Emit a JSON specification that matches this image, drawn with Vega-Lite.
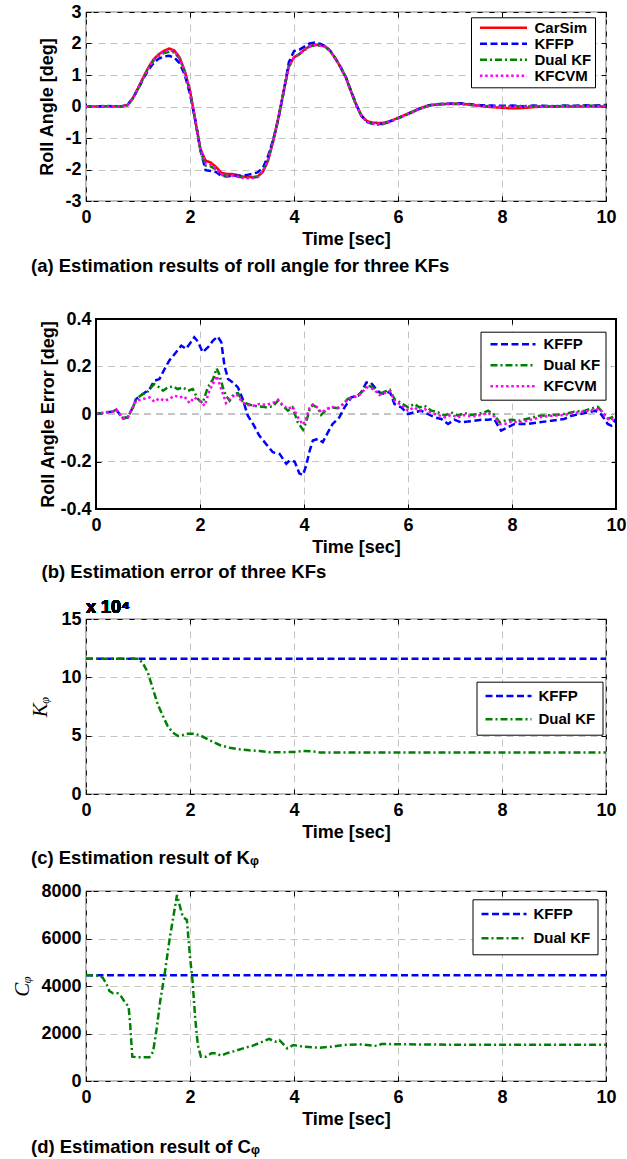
{
  "$schema": "https://vega.github.io/schema/vega-lite/v6.json",
  "background": "white",
  "padding": {"left": 5, "top": 2, "right": 0, "bottom": 0},
  "config": {
    "font": "Liberation Sans",
    "view": {"stroke": "black", "strokeWidth": 1.2},
    "axis": {
      "domain": false,
      "labelFont": "Liberation Sans", "labelFontSize": 18, "labelFontWeight": "bold", "labelColor": "black",
      "titleFont": "Liberation Sans", "titleFontSize": 18, "titleFontWeight": "bold", "titleColor": "black",
      "tickColor": "black", "tickSize": -5, "tickWidth": 1,
      "gridColor": "#c4c4c4", "gridDash": [7, 5], "gridWidth": 1,
      "labelFlush": false
    },
    "axisX": {"labelPadding": 12, "titlePadding": 4},
    "axisY": {"labelPadding": 10, "titlePadding": 8},
    "title": {"font": "Liberation Sans", "fontSize": 18.5, "fontWeight": "bold", "color": "black"},
    "legend": {
      "title": null, "symbolStrokeWidth": 2.5,
      "labelFont": "Liberation Sans", "labelFontSize": 15, "labelFontWeight": "bold", "labelColor": "black",
      "strokeColor": "black", "fillColor": "white", "orient": "none"
    }
  },
  "columns": 1,
  "align": "none",
  "spacing": 33,
  "resolve": {"scale": {"x": "independent", "y": "independent", "color": "independent", "strokeDash": "independent"}},
  "concat": [
    {
      "width": 520, "height": 189,
      "title": {"text": "(a) Estimation results of roll angle for three KFs", "orient": "bottom", "anchor": "start", "frame": "group", "dx": -55, "offset": 9},
      "data": {"values": [
        {"t":0,"CarSim":0,"KFFP":0.01,"Dual KF":0,"KFCVM":0},
        {"t":0.2,"CarSim":0,"KFFP":0,"Dual KF":0.01,"KFCVM":0},
        {"t":0.4,"CarSim":0.01,"KFFP":0.02,"Dual KF":0.01,"KFCVM":0.01},
        {"t":0.6,"CarSim":0.01,"KFFP":0,"Dual KF":0,"KFCVM":0},
        {"t":0.7,"CarSim":0.01,"KFFP":0.01,"Dual KF":0.01,"KFCVM":0.01},
        {"t":0.8,"CarSim":0.05,"KFFP":0.05,"Dual KF":0.04,"KFCVM":0.04},
        {"t":0.9,"CarSim":0.27,"KFFP":0.26,"Dual KF":0.25,"KFCVM":0.26},
        {"t":1.0,"CarSim":0.58,"KFFP":0.55,"Dual KF":0.56,"KFCVM":0.57},
        {"t":1.1,"CarSim":0.92,"KFFP":0.88,"Dual KF":0.90,"KFCVM":0.91},
        {"t":1.2,"CarSim":1.24,"KFFP":1.16,"Dual KF":1.21,"KFCVM":1.22},
        {"t":1.3,"CarSim":1.50,"KFFP":1.38,"Dual KF":1.46,"KFCVM":1.48},
        {"t":1.4,"CarSim":1.66,"KFFP":1.52,"Dual KF":1.61,"KFCVM":1.64},
        {"t":1.5,"CarSim":1.77,"KFFP":1.59,"Dual KF":1.70,"KFCVM":1.74},
        {"t":1.6,"CarSim":1.84,"KFFP":1.61,"Dual KF":1.74,"KFCVM":1.79},
        {"t":1.7,"CarSim":1.78,"KFFP":1.55,"Dual KF":1.72,"KFCVM":1.75},
        {"t":1.8,"CarSim":1.56,"KFFP":1.38,"Dual KF":1.52,"KFCVM":1.54},
        {"t":1.9,"CarSim":1.12,"KFFP":1.00,"Dual KF":1.10,"KFCVM":1.11},
        {"t":2.0,"CarSim":0.50,"KFFP":0.40,"Dual KF":0.47,"KFCVM":0.48},
        {"t":2.1,"CarSim":-0.42,"KFFP":-0.42,"Dual KF":-0.43,"KFCVM":-0.42},
        {"t":2.2,"CarSim":-1.35,"KFFP":-1.38,"Dual KF":-1.40,"KFCVM":-1.37},
        {"t":2.3,"CarSim":-1.72,"KFFP":-2.02,"Dual KF":-1.88,"KFCVM":-1.80},
        {"t":2.4,"CarSim":-1.78,"KFFP":-2.05,"Dual KF":-1.90,"KFCVM":-1.84},
        {"t":2.5,"CarSim":-1.92,"KFFP":-2.08,"Dual KF":-2.00,"KFCVM":-1.97},
        {"t":2.6,"CarSim":-2.10,"KFFP":-2.20,"Dual KF":-2.17,"KFCVM":-2.15},
        {"t":2.7,"CarSim":-2.14,"KFFP":-2.22,"Dual KF":-2.20,"KFCVM":-2.19},
        {"t":2.8,"CarSim":-2.14,"KFFP":-2.20,"Dual KF":-2.20,"KFCVM":-2.19},
        {"t":2.9,"CarSim":-2.17,"KFFP":-2.20,"Dual KF":-2.22,"KFCVM":-2.22},
        {"t":3.0,"CarSim":-2.22,"KFFP":-2.20,"Dual KF":-2.25,"KFCVM":-2.26},
        {"t":3.1,"CarSim":-2.24,"KFFP":-2.17,"Dual KF":-2.26,"KFCVM":-2.28},
        {"t":3.2,"CarSim":-2.24,"KFFP":-2.14,"Dual KF":-2.26,"KFCVM":-2.27},
        {"t":3.3,"CarSim":-2.22,"KFFP":-2.09,"Dual KF":-2.23,"KFCVM":-2.24},
        {"t":3.4,"CarSim":-2.08,"KFFP":-1.95,"Dual KF":-2.06,"KFCVM":-2.08},
        {"t":3.5,"CarSim":-1.72,"KFFP":-1.58,"Dual KF":-1.70,"KFCVM":-1.71},
        {"t":3.6,"CarSim":-1.10,"KFFP":-1.05,"Dual KF":-1.08,"KFCVM":-1.09},
        {"t":3.7,"CarSim":-0.35,"KFFP":-0.40,"Dual KF":-0.36,"KFCVM":-0.36},
        {"t":3.8,"CarSim":0.48,"KFFP":0.45,"Dual KF":0.47,"KFCVM":0.47},
        {"t":3.9,"CarSim":1.28,"KFFP":1.40,"Dual KF":1.26,"KFCVM":1.27},
        {"t":4.0,"CarSim":1.56,"KFFP":1.76,"Dual KF":1.55,"KFCVM":1.56},
        {"t":4.1,"CarSim":1.66,"KFFP":1.80,"Dual KF":1.66,"KFCVM":1.66},
        {"t":4.2,"CarSim":1.80,"KFFP":1.90,"Dual KF":1.79,"KFCVM":1.79},
        {"t":4.3,"CarSim":1.92,"KFFP":2.00,"Dual KF":1.90,"KFCVM":1.91},
        {"t":4.4,"CarSim":1.96,"KFFP":2.03,"Dual KF":1.94,"KFCVM":1.95},
        {"t":4.5,"CarSim":1.95,"KFFP":1.99,"Dual KF":1.94,"KFCVM":1.94},
        {"t":4.6,"CarSim":1.91,"KFFP":1.92,"Dual KF":1.90,"KFCVM":1.90},
        {"t":4.7,"CarSim":1.76,"KFFP":1.76,"Dual KF":1.75,"KFCVM":1.75},
        {"t":4.8,"CarSim":1.52,"KFFP":1.52,"Dual KF":1.51,"KFCVM":1.51},
        {"t":4.9,"CarSim":1.24,"KFFP":1.24,"Dual KF":1.22,"KFCVM":1.23},
        {"t":5.0,"CarSim":0.92,"KFFP":0.92,"Dual KF":0.90,"KFCVM":0.91},
        {"t":5.1,"CarSim":0.47,"KFFP":0.48,"Dual KF":0.45,"KFCVM":0.46},
        {"t":5.2,"CarSim":0.04,"KFFP":0.05,"Dual KF":0.02,"KFCVM":0.03},
        {"t":5.3,"CarSim":-0.29,"KFFP":-0.30,"Dual KF":-0.31,"KFCVM":-0.30},
        {"t":5.4,"CarSim":-0.46,"KFFP":-0.48,"Dual KF":-0.49,"KFCVM":-0.48},
        {"t":5.5,"CarSim":-0.51,"KFFP":-0.54,"Dual KF":-0.55,"KFCVM":-0.54},
        {"t":5.6,"CarSim":-0.52,"KFFP":-0.56,"Dual KF":-0.57,"KFCVM":-0.55},
        {"t":5.7,"CarSim":-0.52,"KFFP":-0.55,"Dual KF":-0.56,"KFCVM":-0.55},
        {"t":5.8,"CarSim":-0.49,"KFFP":-0.50,"Dual KF":-0.51,"KFCVM":-0.50},
        {"t":5.9,"CarSim":-0.43,"KFFP":-0.44,"Dual KF":-0.45,"KFCVM":-0.44},
        {"t":6.0,"CarSim":-0.36,"KFFP":-0.37,"Dual KF":-0.38,"KFCVM":-0.37},
        {"t":6.2,"CarSim":-0.22,"KFFP":-0.23,"Dual KF":-0.24,"KFCVM":-0.23},
        {"t":6.4,"CarSim":-0.07,"KFFP":-0.08,"Dual KF":-0.09,"KFCVM":-0.08},
        {"t":6.6,"CarSim":0.04,"KFFP":0.04,"Dual KF":0.03,"KFCVM":0.03},
        {"t":6.8,"CarSim":0.07,"KFFP":0.08,"Dual KF":0.07,"KFCVM":0.07},
        {"t":7.0,"CarSim":0.09,"KFFP":0.09,"Dual KF":0.08,"KFCVM":0.08},
        {"t":7.2,"CarSim":0.09,"KFFP":0.10,"Dual KF":0.08,"KFCVM":0.08},
        {"t":7.4,"CarSim":0.06,"KFFP":0.07,"Dual KF":0.05,"KFCVM":0.05},
        {"t":7.6,"CarSim":0.01,"KFFP":0.04,"Dual KF":0.02,"KFCVM":0.02},
        {"t":7.8,"CarSim":-0.02,"KFFP":0.03,"Dual KF":0.01,"KFCVM":0},
        {"t":8.0,"CarSim":-0.04,"KFFP":0.02,"Dual KF":-0.01,"KFCVM":-0.02},
        {"t":8.2,"CarSim":-0.06,"KFFP":0.03,"Dual KF":0,"KFCVM":-0.01},
        {"t":8.4,"CarSim":-0.05,"KFFP":0.01,"Dual KF":0.01,"KFCVM":0},
        {"t":8.6,"CarSim":-0.02,"KFFP":0.03,"Dual KF":0,"KFCVM":-0.01},
        {"t":8.8,"CarSim":0,"KFFP":0.02,"Dual KF":0.01,"KFCVM":0.01},
        {"t":9.0,"CarSim":0,"KFFP":0.01,"Dual KF":0,"KFCVM":0},
        {"t":9.2,"CarSim":0,"KFFP":0.03,"Dual KF":0.02,"KFCVM":0.01},
        {"t":9.4,"CarSim":0,"KFFP":0.02,"Dual KF":0.01,"KFCVM":0},
        {"t":9.6,"CarSim":0,"KFFP":0.04,"Dual KF":0.03,"KFCVM":0.02},
        {"t":9.8,"CarSim":0,"KFFP":0.03,"Dual KF":0.02,"KFCVM":0.01},
        {"t":10,"CarSim":0,"KFFP":0.05,"Dual KF":0.02,"KFCVM":0.01}
      ]},
      "transform": [{"fold": ["CarSim", "KFFP", "Dual KF", "KFCVM"], "as": ["s", "v"]}],
      "layer": [
        {
          "mark": {"type": "line", "strokeWidth": 2.5, "clip": true},
          "encoding": {
            "x": {"field": "t", "type": "quantitative", "scale": {"domain": [0, 10], "nice": false, "zero": false},
                  "axis": {"values": [0, 2, 4, 6, 8, 10], "title": "Time [sec]", "grid": true, "labelExpr": "'' + datum.value"}},
            "y": {"field": "v", "type": "quantitative", "scale": {"domain": [-3, 3], "nice": false},
                  "axis": {"values": [-3, -2, -1, 0, 1, 2, 3], "title": "Roll Angle [deg]", "grid": true, "labelExpr": "'' + datum.value"}},
            "color": {"field": "s", "type": "nominal",
                      "scale": {"domain": ["CarSim", "KFFP", "Dual KF", "KFCVM"], "range": ["#ff0000", "#0000ff", "#008000", "#ff00ff"]},
                      "legend": {"legendX": 385, "legendY": 5.3, "padding": 3, "symbolType": "M-4.7,0H4.7", "symbolSize": 100, "symbolOffset": 22, "labelOffset": 23.5, "rowPadding": -0.3, "labelExpr": "datum.label + ' '"}},
            "strokeDash": {"field": "s", "type": "nominal",
                      "scale": {"domain": ["CarSim", "KFFP", "Dual KF", "KFCVM"], "range": [[1, 0], [7, 3.5], [7, 3, 2, 3], [2.5, 2.7]]},
                      "legend": {"legendX": 385, "legendY": 5.3, "padding": 3, "symbolType": "M-4.7,0H4.7", "symbolSize": 100, "symbolOffset": 22, "labelOffset": 23.5, "rowPadding": -0.3, "labelExpr": "datum.label + ' '"}}
          }
        },
        {
          "mark": {"type": "point", "opacity": 0},
          "encoding": {
            "x": {"field": "t", "type": "quantitative", "axis": {"orient": "top", "values": [0, 2, 4, 6, 8, 10], "labels": false, "title": null, "grid": false}},
            "y": {"field": "v", "type": "quantitative", "axis": {"orient": "right", "values": [-3, -2, -1, 0, 1, 2, 3], "labels": false, "title": null, "grid": false}}
          }
        },
        {
          "mark": {"type": "text", "text": ".", "color": "white", "align": "left", "baseline": "top", "dx": -80, "fontSize": 8},
          "encoding": {"x": {"datum": 0, "type": "quantitative", "axis": null}, "y": {"datum": 3, "type": "quantitative", "axis": null}}
        }
      ],
      "resolve": {"axis": {"x": "independent", "y": "independent"}}
    },
    {
      "columns": 1,
      "align": "none",
      "spacing": 16,
      "resolve": {"scale": {"x": "independent", "y": "independent", "color": "independent", "strokeDash": "independent"}},
      "concat": [
        {
          "width": 530, "height": 190,
          "view": {"stroke": null},
          "title": {"text": "(b) Estimation error of three KFs", "orient": "bottom", "anchor": "start", "frame": "group", "dx": -44.5, "offset": 7},
          "data": {"values": [
            {"s":"KFFP","t":0,"v":0},{"s":"KFFP","t":0.2,"v":0.007},{"s":"KFFP","t":0.32,"v":0.01},{"s":"KFFP","t":0.39,"v":0.018},{"s":"KFFP","t":0.45,"v":0},{"s":"KFFP","t":0.52,"v":-0.018},{"s":"KFFP","t":0.61,"v":-0.014},{"s":"KFFP","t":0.71,"v":0.028},{"s":"KFFP","t":0.77,"v":0.063},{"s":"KFFP","t":0.9,"v":0.084},{"s":"KFFP","t":1.03,"v":0.105},{"s":"KFFP","t":1.12,"v":0.14},{"s":"KFFP","t":1.22,"v":0.147},{"s":"KFFP","t":1.32,"v":0.19},{"s":"KFFP","t":1.41,"v":0.225},{"s":"KFFP","t":1.54,"v":0.26},{"s":"KFFP","t":1.64,"v":0.288},{"s":"KFFP","t":1.73,"v":0.274},{"s":"KFFP","t":1.8,"v":0.295},{"s":"KFFP","t":1.89,"v":0.323},{"s":"KFFP","t":1.96,"v":0.305},{"s":"KFFP","t":2.05,"v":0.26},{"s":"KFFP","t":2.15,"v":0.28},{"s":"KFFP","t":2.25,"v":0.309},{"s":"KFFP","t":2.34,"v":0.326},{"s":"KFFP","t":2.41,"v":0.302},{"s":"KFFP","t":2.47,"v":0.204},{"s":"KFFP","t":2.54,"v":0.147},{"s":"KFFP","t":2.63,"v":0.133},{"s":"KFFP","t":2.73,"v":0.112},{"s":"KFFP","t":2.82,"v":0.063},{"s":"KFFP","t":2.92,"v":-0.007},{"s":"KFFP","t":3.02,"v":-0.042},{"s":"KFFP","t":3.14,"v":-0.091},{"s":"KFFP","t":3.27,"v":-0.126},{"s":"KFFP","t":3.4,"v":-0.161},{"s":"KFFP","t":3.53,"v":-0.168},{"s":"KFFP","t":3.66,"v":-0.21},{"s":"KFFP","t":3.72,"v":-0.196},{"s":"KFFP","t":3.82,"v":-0.2},{"s":"KFFP","t":3.91,"v":-0.25},{"s":"KFFP","t":3.98,"v":-0.257},{"s":"KFFP","t":4.04,"v":-0.218},{"s":"KFFP","t":4.11,"v":-0.154},{"s":"KFFP","t":4.17,"v":-0.112},{"s":"KFFP","t":4.27,"v":-0.105},{"s":"KFFP","t":4.36,"v":-0.119},{"s":"KFFP","t":4.46,"v":-0.077},{"s":"KFFP","t":4.55,"v":-0.042},{"s":"KFFP","t":4.68,"v":-0.014},{"s":"KFFP","t":4.78,"v":0.028},{"s":"KFFP","t":4.91,"v":0.07},{"s":"KFFP","t":5.04,"v":0.077},{"s":"KFFP","t":5.1,"v":0.091},{"s":"KFFP","t":5.2,"v":0.133},{"s":"KFFP","t":5.28,"v":0.133},{"s":"KFFP","t":5.36,"v":0.112},{"s":"KFFP","t":5.45,"v":0.091},{"s":"KFFP","t":5.55,"v":0.084},{"s":"KFFP","t":5.65,"v":0.094},{"s":"KFFP","t":5.74,"v":0.042},{"s":"KFFP","t":5.87,"v":0.028},{"s":"KFFP","t":6.0,"v":0},{"s":"KFFP","t":6.12,"v":0.007},{"s":"KFFP","t":6.25,"v":0.014},{"s":"KFFP","t":6.38,"v":0},{"s":"KFFP","t":6.51,"v":-0.014},{"s":"KFFP","t":6.64,"v":-0.021},{"s":"KFFP","t":6.77,"v":-0.042},{"s":"KFFP","t":6.89,"v":-0.024},{"s":"KFFP","t":7.02,"v":-0.035},{"s":"KFFP","t":7.15,"v":-0.032},{"s":"KFFP","t":7.28,"v":-0.028},{"s":"KFFP","t":7.41,"v":-0.024},{"s":"KFFP","t":7.54,"v":-0.024},{"s":"KFFP","t":7.66,"v":-0.021},{"s":"KFFP","t":7.73,"v":-0.049},{"s":"KFFP","t":7.79,"v":-0.07},{"s":"KFFP","t":7.92,"v":-0.056},{"s":"KFFP","t":8.05,"v":-0.042},{"s":"KFFP","t":8.3,"v":-0.042},{"s":"KFFP","t":8.53,"v":-0.035},{"s":"KFFP","t":8.76,"v":-0.028},{"s":"KFFP","t":9.0,"v":-0.021},{"s":"KFFP","t":9.15,"v":-0.007},{"s":"KFFP","t":9.38,"v":0.003},{"s":"KFFP","t":9.6,"v":0.014},{"s":"KFFP","t":9.72,"v":-0.003},{"s":"KFFP","t":9.84,"v":-0.042},{"s":"KFFP","t":9.91,"v":-0.049},{"s":"KFFP","t":10,"v":-0.021},
            {"s":"Dual KF","t":0,"v":0},{"s":"Dual KF","t":0.2,"v":0.007},{"s":"Dual KF","t":0.32,"v":0.01},{"s":"Dual KF","t":0.39,"v":0.018},{"s":"Dual KF","t":0.45,"v":0},{"s":"Dual KF","t":0.52,"v":-0.018},{"s":"Dual KF","t":0.61,"v":-0.014},{"s":"Dual KF","t":0.71,"v":0.028},{"s":"Dual KF","t":0.77,"v":0.063},{"s":"Dual KF","t":0.9,"v":0.084},{"s":"Dual KF","t":0.97,"v":0.088},{"s":"Dual KF","t":1.06,"v":0.112},{"s":"Dual KF","t":1.12,"v":0.126},{"s":"Dual KF","t":1.22,"v":0.112},{"s":"Dual KF","t":1.29,"v":0.098},{"s":"Dual KF","t":1.38,"v":0.112},{"s":"Dual KF","t":1.48,"v":0.116},{"s":"Dual KF","t":1.57,"v":0.105},{"s":"Dual KF","t":1.67,"v":0.112},{"s":"Dual KF","t":1.77,"v":0.098},{"s":"Dual KF","t":1.86,"v":0.105},{"s":"Dual KF","t":1.96,"v":0.063},{"s":"Dual KF","t":2.05,"v":0.046},{"s":"Dual KF","t":2.15,"v":0.112},{"s":"Dual KF","t":2.25,"v":0.147},{"s":"Dual KF","t":2.32,"v":0.192},{"s":"Dual KF","t":2.37,"v":0.168},{"s":"Dual KF","t":2.44,"v":0.112},{"s":"Dual KF","t":2.5,"v":0.077},{"s":"Dual KF","t":2.57,"v":0.056},{"s":"Dual KF","t":2.65,"v":0.084},{"s":"Dual KF","t":2.73,"v":0.088},{"s":"Dual KF","t":2.82,"v":0.052},{"s":"Dual KF","t":2.92,"v":0.042},{"s":"Dual KF","t":3.02,"v":0.035},{"s":"Dual KF","t":3.14,"v":0.032},{"s":"Dual KF","t":3.27,"v":0.028},{"s":"Dual KF","t":3.4,"v":0.032},{"s":"Dual KF","t":3.5,"v":0.056},{"s":"Dual KF","t":3.59,"v":0.035},{"s":"Dual KF","t":3.69,"v":0.014},{"s":"Dual KF","t":3.78,"v":0.028},{"s":"Dual KF","t":3.88,"v":-0.035},{"s":"Dual KF","t":3.98,"v":-0.066},{"s":"Dual KF","t":4.04,"v":-0.035},{"s":"Dual KF","t":4.11,"v":0.021},{"s":"Dual KF","t":4.17,"v":0.038},{"s":"Dual KF","t":4.27,"v":0.024},{"s":"Dual KF","t":4.33,"v":-0.004},{"s":"Dual KF","t":4.43,"v":0.018},{"s":"Dual KF","t":4.52,"v":0.028},{"s":"Dual KF","t":4.65,"v":0.024},{"s":"Dual KF","t":4.75,"v":0.042},{"s":"Dual KF","t":4.84,"v":0.063},{"s":"Dual KF","t":4.94,"v":0.073},{"s":"Dual KF","t":5.04,"v":0.077},{"s":"Dual KF","t":5.13,"v":0.098},{"s":"Dual KF","t":5.2,"v":0.119},{"s":"Dual KF","t":5.28,"v":0.116},{"s":"Dual KF","t":5.36,"v":0.105},{"s":"Dual KF","t":5.45,"v":0.084},{"s":"Dual KF","t":5.55,"v":0.094},{"s":"Dual KF","t":5.65,"v":0.102},{"s":"Dual KF","t":5.74,"v":0.063},{"s":"Dual KF","t":5.87,"v":0.046},{"s":"Dual KF","t":6.0,"v":0.028},{"s":"Dual KF","t":6.12,"v":0.042},{"s":"Dual KF","t":6.22,"v":0.028},{"s":"Dual KF","t":6.32,"v":0.035},{"s":"Dual KF","t":6.45,"v":0.014},{"s":"Dual KF","t":6.58,"v":0.007},{"s":"Dual KF","t":6.71,"v":-0.007},{"s":"Dual KF","t":6.83,"v":0.007},{"s":"Dual KF","t":6.96,"v":-0.007},{"s":"Dual KF","t":7.09,"v":0.004},{"s":"Dual KF","t":7.22,"v":-0.004},{"s":"Dual KF","t":7.34,"v":0},{"s":"Dual KF","t":7.47,"v":0.007},{"s":"Dual KF","t":7.54,"v":0.014},{"s":"Dual KF","t":7.66,"v":-0.004},{"s":"Dual KF","t":7.76,"v":-0.035},{"s":"Dual KF","t":7.86,"v":-0.028},{"s":"Dual KF","t":7.99,"v":-0.024},{"s":"Dual KF","t":8.15,"v":-0.028},{"s":"Dual KF","t":8.3,"v":-0.02},{"s":"Dual KF","t":8.53,"v":-0.007},{"s":"Dual KF","t":8.76,"v":-0.005},{"s":"Dual KF","t":9.0,"v":0},{"s":"Dual KF","t":9.2,"v":0.01},{"s":"Dual KF","t":9.4,"v":0.014},{"s":"Dual KF","t":9.6,"v":0.028},{"s":"Dual KF","t":9.65,"v":0.03},{"s":"Dual KF","t":9.75,"v":0.005},{"s":"Dual KF","t":9.85,"v":-0.02},{"s":"Dual KF","t":9.92,"v":-0.014},{"s":"Dual KF","t":10,"v":-0.007},
            {"s":"KFCVM","t":0,"v":0},{"s":"KFCVM","t":0.2,"v":0.007},{"s":"KFCVM","t":0.32,"v":0.01},{"s":"KFCVM","t":0.39,"v":0.018},{"s":"KFCVM","t":0.45,"v":0},{"s":"KFCVM","t":0.52,"v":-0.018},{"s":"KFCVM","t":0.61,"v":-0.014},{"s":"KFCVM","t":0.71,"v":0.028},{"s":"KFCVM","t":0.77,"v":0.055},{"s":"KFCVM","t":0.9,"v":0.063},{"s":"KFCVM","t":1.03,"v":0.07},{"s":"KFCVM","t":1.12,"v":0.052},{"s":"KFCVM","t":1.22,"v":0.066},{"s":"KFCVM","t":1.32,"v":0.056},{"s":"KFCVM","t":1.41,"v":0.063},{"s":"KFCVM","t":1.51,"v":0.077},{"s":"KFCVM","t":1.61,"v":0.07},{"s":"KFCVM","t":1.7,"v":0.074},{"s":"KFCVM","t":1.8,"v":0.046},{"s":"KFCVM","t":1.89,"v":0.07},{"s":"KFCVM","t":1.99,"v":0.056},{"s":"KFCVM","t":2.09,"v":0.035},{"s":"KFCVM","t":2.18,"v":0.098},{"s":"KFCVM","t":2.28,"v":0.14},{"s":"KFCVM","t":2.32,"v":0.161},{"s":"KFCVM","t":2.41,"v":0.105},{"s":"KFCVM","t":2.5,"v":0.046},{"s":"KFCVM","t":2.6,"v":0.07},{"s":"KFCVM","t":2.7,"v":0.084},{"s":"KFCVM","t":2.79,"v":0.056},{"s":"KFCVM","t":2.89,"v":0.038},{"s":"KFCVM","t":3.02,"v":0.035},{"s":"KFCVM","t":3.14,"v":0.042},{"s":"KFCVM","t":3.27,"v":0.038},{"s":"KFCVM","t":3.4,"v":0.046},{"s":"KFCVM","t":3.5,"v":0.06},{"s":"KFCVM","t":3.59,"v":0.038},{"s":"KFCVM","t":3.69,"v":0.021},{"s":"KFCVM","t":3.78,"v":0.032},{"s":"KFCVM","t":3.88,"v":-0.014},{"s":"KFCVM","t":3.98,"v":-0.045},{"s":"KFCVM","t":4.04,"v":-0.02},{"s":"KFCVM","t":4.11,"v":0.03},{"s":"KFCVM","t":4.17,"v":0.04},{"s":"KFCVM","t":4.27,"v":0.026},{"s":"KFCVM","t":4.33,"v":0.005},{"s":"KFCVM","t":4.43,"v":0.02},{"s":"KFCVM","t":4.52,"v":0.03},{"s":"KFCVM","t":4.65,"v":0.026},{"s":"KFCVM","t":4.75,"v":0.04},{"s":"KFCVM","t":4.84,"v":0.06},{"s":"KFCVM","t":4.94,"v":0.07},{"s":"KFCVM","t":5.04,"v":0.075},{"s":"KFCVM","t":5.13,"v":0.094},{"s":"KFCVM","t":5.2,"v":0.112},{"s":"KFCVM","t":5.28,"v":0.11},{"s":"KFCVM","t":5.36,"v":0.1},{"s":"KFCVM","t":5.45,"v":0.08},{"s":"KFCVM","t":5.55,"v":0.088},{"s":"KFCVM","t":5.65,"v":0.095},{"s":"KFCVM","t":5.74,"v":0.056},{"s":"KFCVM","t":5.87,"v":0.038},{"s":"KFCVM","t":6.0,"v":0.014},{"s":"KFCVM","t":6.12,"v":0.028},{"s":"KFCVM","t":6.22,"v":0.014},{"s":"KFCVM","t":6.32,"v":0.021},{"s":"KFCVM","t":6.45,"v":0.004},{"s":"KFCVM","t":6.58,"v":-0.004},{"s":"KFCVM","t":6.71,"v":-0.014},{"s":"KFCVM","t":6.83,"v":-0.004},{"s":"KFCVM","t":6.96,"v":-0.014},{"s":"KFCVM","t":7.09,"v":-0.004},{"s":"KFCVM","t":7.22,"v":-0.01},{"s":"KFCVM","t":7.34,"v":-0.007},{"s":"KFCVM","t":7.47,"v":0},{"s":"KFCVM","t":7.54,"v":0.004},{"s":"KFCVM","t":7.66,"v":-0.01},{"s":"KFCVM","t":7.76,"v":-0.042},{"s":"KFCVM","t":7.86,"v":-0.042},{"s":"KFCVM","t":7.99,"v":-0.032},{"s":"KFCVM","t":8.15,"v":-0.035},{"s":"KFCVM","t":8.3,"v":-0.028},{"s":"KFCVM","t":8.53,"v":-0.014},{"s":"KFCVM","t":8.76,"v":-0.007},{"s":"KFCVM","t":9.0,"v":-0.005},{"s":"KFCVM","t":9.2,"v":0.005},{"s":"KFCVM","t":9.4,"v":0.01},{"s":"KFCVM","t":9.6,"v":0.02},{"s":"KFCVM","t":9.7,"v":0.02},{"s":"KFCVM","t":9.8,"v":-0.014},{"s":"KFCVM","t":9.9,"v":-0.028},{"s":"KFCVM","t":10,"v":-0.01}
          ]},
          "layer": [
            {
              "mark": {"type": "rule", "color": "#c4c4c4", "strokeDash": [7, 5], "strokeWidth": 1},
              "encoding": {"x": {"datum": 0, "type": "quantitative", "axis": null}, "x2": {"datum": 10}, "y": {"datum": 0.2, "type": "quantitative", "axis": null}}
            },
            {
              "mark": {"type": "rule", "color": "#c4c4c4", "strokeDash": [7, 5], "strokeWidth": 1},
              "encoding": {"x": {"datum": 0, "type": "quantitative", "axis": null}, "x2": {"datum": 10}, "y": {"datum": 0, "type": "quantitative", "axis": null}}
            },
            {
              "mark": {"type": "rule", "color": "#c4c4c4", "strokeDash": [7, 5], "strokeWidth": 1},
              "encoding": {"x": {"datum": 0, "type": "quantitative", "axis": null}, "x2": {"datum": 10}, "y": {"datum": -0.2, "type": "quantitative", "axis": null}}
            },
            {
              "mark": {"type": "line", "strokeWidth": 2.5, "clip": true},
              "encoding": {
                "x": {"field": "t", "type": "quantitative", "scale": {"domain": [0, 10], "range": [10, 530], "nice": false, "zero": false},
                      "axis": {"values": [0, 2, 4, 6, 8, 10], "title": "Time [sec]", "titleX": 270, "grid": true, "labelExpr": "'' + datum.value"}},
                "y": {"field": "v", "type": "quantitative", "scale": {"domain": [-0.4, 0.4], "nice": false},
                      "axis": {"values": [-0.4, -0.2, 0, 0.2, 0.4], "title": "Roll Angle Error [deg]", "grid": false, "offset": -10, "titlePadding": 2, "labelExpr": "'' + datum.value"}},
                "color": {"field": "s", "type": "nominal",
                          "scale": {"domain": ["KFFP", "Dual KF", "KFCVM"], "range": ["#0000ff", "#008000", "#ff00ff"]},
                          "legend": {"legendX": 394.5, "legendY": 12.7, "padding": 5, "symbolType": "M-4.5,0H4.5", "symbolSize": 100, "symbolOffset": 20, "labelOffset": 23, "rowPadding": 5, "labelExpr": "datum.label + ' '"}},
                "strokeDash": {"field": "s", "type": "nominal",
                          "scale": {"domain": ["KFFP", "Dual KF", "KFCVM"], "range": [[7, 3.5], [7, 3, 2, 3], [2.5, 2.7]]},
                          "legend": {"legendX": 394.5, "legendY": 12.7, "padding": 5, "symbolType": "M-4.5,0H4.5", "symbolSize": 100, "symbolOffset": 20, "labelOffset": 23, "rowPadding": 5, "labelExpr": "datum.label + ' '"}}
              }
            },
            {
              "mark": {"type": "point", "opacity": 0},
              "encoding": {
                "x": {"field": "t", "type": "quantitative", "axis": {"orient": "top", "values": [0, 2, 4, 6, 8, 10], "labels": false, "title": null, "grid": false}},
                "y": {"field": "v", "type": "quantitative", "axis": {"orient": "right", "values": [-0.4, -0.2, 0, 0.2, 0.4], "labels": false, "title": null, "grid": false}}
              }
            },
            {
              "mark": {"type": "text", "text": ".", "color": "white", "align": "left", "baseline": "top", "dx": -90, "fontSize": 8},
              "encoding": {"x": {"datum": 0, "type": "quantitative", "axis": null}, "y": {"datum": 0.4, "type": "quantitative", "axis": null}}
            },
            {
              "mark": {"type": "rect", "filled": false, "stroke": "black", "strokeWidth": 1.2},
              "encoding": {"x": {"datum": 0, "type": "quantitative", "axis": null}, "x2": {"datum": 10}, "y": {"datum": -0.4, "type": "quantitative", "axis": null}, "y2": {"datum": 0.4}}
            }
          ],
          "resolve": {"axis": {"x": "independent", "y": "independent"}}
        },
        {
          "columns": 1,
          "align": "none",
          "spacing": 12,
          "resolve": {"scale": {"x": "independent", "y": "independent", "color": "independent", "strokeDash": "independent"}},
          "concat": [
            {
              "width": 520, "height": 175,
              "title": {"text": "(c) Estimation result of Kᵩ", "orient": "bottom", "anchor": "start", "frame": "group", "dx": -55, "offset": 8},
              "data": {"values": [
                {"s":"KFFP","t":0,"v":11.6},{"s":"KFFP","t":10,"v":11.6},
                {"s":"Dual KF","t":0,"v":11.6},{"s":"Dual KF","t":0.5,"v":11.6},{"s":"Dual KF","t":1.0,"v":11.6},{"s":"Dual KF","t":1.09,"v":11.25},{"s":"Dual KF","t":1.19,"v":10.4},{"s":"Dual KF","t":1.29,"v":8.97},{"s":"Dual KF","t":1.38,"v":7.68},{"s":"Dual KF","t":1.48,"v":6.68},{"s":"Dual KF","t":1.57,"v":5.83},{"s":"Dual KF","t":1.67,"v":5.26},{"s":"Dual KF","t":1.77,"v":4.97},{"s":"Dual KF","t":1.86,"v":5.05},{"s":"Dual KF","t":1.96,"v":5.17},{"s":"Dual KF","t":2.09,"v":5.17},{"s":"Dual KF","t":2.22,"v":4.97},{"s":"Dual KF","t":2.38,"v":4.6},{"s":"Dual KF","t":2.57,"v":4.2},{"s":"Dual KF","t":2.76,"v":3.97},{"s":"Dual KF","t":2.95,"v":3.83},{"s":"Dual KF","t":3.14,"v":3.74},{"s":"Dual KF","t":3.34,"v":3.69},{"s":"Dual KF","t":3.53,"v":3.58},{"s":"Dual KF","t":3.8,"v":3.58},{"s":"Dual KF","t":4.0,"v":3.6},{"s":"Dual KF","t":4.18,"v":3.68},{"s":"Dual KF","t":4.35,"v":3.65},{"s":"Dual KF","t":4.5,"v":3.56},{"s":"Dual KF","t":5,"v":3.55},{"s":"Dual KF","t":6,"v":3.55},{"s":"Dual KF","t":7,"v":3.55},{"s":"Dual KF","t":8,"v":3.55},{"s":"Dual KF","t":9,"v":3.55},{"s":"Dual KF","t":10,"v":3.55}
              ]},
              "layer": [
                {
                  "mark": {"type": "line", "strokeWidth": 2.5, "clip": true},
                  "encoding": {
                    "x": {"field": "t", "type": "quantitative", "scale": {"domain": [0, 10], "nice": false, "zero": false},
                          "axis": {"values": [0, 2, 4, 6, 8, 10], "title": "Time [sec]", "grid": true, "labelExpr": "'' + datum.value"}},
                    "y": {"field": "v", "type": "quantitative", "scale": {"domain": [0, 15], "nice": false},
                          "axis": {"values": [0, 5, 10, 15], "title": "Kᵩ", "grid": true, "titleFont": "Liberation Serif", "titleFontStyle": "italic", "titleFontWeight": "normal", "titleFontSize": 21, "titlePadding": 10, "labelExpr": "'' + datum.value"}},
                    "color": {"field": "s", "type": "nominal",
                              "scale": {"domain": ["KFFP", "Dual KF"], "range": ["#0000ff", "#008000"]},
                              "legend": {"legendX": 390.5, "legendY": 62.7, "padding": 6.8, "symbolType": "M-4.6,0H4.6", "symbolSize": 100, "symbolOffset": 17.7, "labelOffset": 22.5, "rowPadding": 7.3}},
                    "strokeDash": {"field": "s", "type": "nominal",
                              "scale": {"domain": ["KFFP", "Dual KF"], "range": [[7, 3.5], [7, 3, 2, 3]]},
                              "legend": {"legendX": 390.5, "legendY": 62.7, "padding": 6.8, "symbolType": "M-4.6,0H4.6", "symbolSize": 100, "symbolOffset": 17.7, "labelOffset": 22.5, "rowPadding": 7.3}}
                  }
                },
                {
                  "mark": {"type": "point", "opacity": 0},
                  "encoding": {
                    "x": {"field": "t", "type": "quantitative", "axis": {"orient": "top", "values": [0, 2, 4, 6, 8, 10], "labels": false, "title": null, "grid": false}},
                    "y": {"field": "v", "type": "quantitative", "axis": {"orient": "right", "values": [0, 5, 10, 15], "labels": false, "title": null, "grid": false}}
                  }
                },
                {
                  "mark": {"type": "text", "align": "left", "baseline": "alphabetic", "dy": -6, "font": "Liberation Sans", "fontSize": 18, "fontWeight": "bold", "color": "black"},
                  "encoding": {
                    "x": {"datum": 0, "type": "quantitative", "axis": null},
                    "y": {"datum": 15, "type": "quantitative", "axis": null},
                    "text": {"value": "x 10⁴"}
                  }
                },
                {
                  "mark": {"type": "text", "text": ".", "color": "white", "align": "left", "baseline": "top", "dx": -80, "fontSize": 8},
                  "encoding": {"x": {"datum": 0, "type": "quantitative", "axis": null}, "y": {"datum": 15, "type": "quantitative", "axis": null}}
                }
              ],
              "resolve": {"axis": {"x": "independent", "y": "independent"}}
            },
            {
              "width": 520, "height": 190,
              "title": {"text": "(d) Estimation result of Cᵩ", "orient": "bottom", "anchor": "start", "frame": "group", "dx": -55, "offset": 10},
              "data": {"values": [
                {"s":"KFFP","t":0,"v":4450},{"s":"KFFP","t":10,"v":4450},
                {"s":"Dual KF","t":0,"v":4460},{"s":"Dual KF","t":0.26,"v":4430},{"s":"Dual KF","t":0.32,"v":4350},{"s":"Dual KF","t":0.39,"v":4110},{"s":"Dual KF","t":0.45,"v":3790},{"s":"Dual KF","t":0.52,"v":3690},{"s":"Dual KF","t":0.61,"v":3690},{"s":"Dual KF","t":0.68,"v":3550},{"s":"Dual KF","t":0.74,"v":3340},{"s":"Dual KF","t":0.82,"v":3130},{"s":"Dual KF","t":0.85,"v":2360},{"s":"Dual KF","t":0.89,"v":1025},{"s":"Dual KF","t":0.97,"v":1000},{"s":"Dual KF","t":1.22,"v":1000},{"s":"Dual KF","t":1.29,"v":1230},{"s":"Dual KF","t":1.36,"v":2220},{"s":"Dual KF","t":1.43,"v":3410},{"s":"Dual KF","t":1.51,"v":4460},{"s":"Dual KF","t":1.61,"v":6010},{"s":"Dual KF","t":1.68,"v":6920},{"s":"Dual KF","t":1.75,"v":7830},{"s":"Dual KF","t":1.8,"v":7410},{"s":"Dual KF","t":1.86,"v":6920},{"s":"Dual KF","t":1.94,"v":6780},{"s":"Dual KF","t":2.0,"v":5230},{"s":"Dual KF","t":2.05,"v":4180},{"s":"Dual KF","t":2.1,"v":2640},{"s":"Dual KF","t":2.15,"v":1520},{"s":"Dual KF","t":2.21,"v":1025},{"s":"Dual KF","t":2.31,"v":1025},{"s":"Dual KF","t":2.41,"v":1165},{"s":"Dual KF","t":2.5,"v":1165},{"s":"Dual KF","t":2.6,"v":1065},{"s":"Dual KF","t":2.7,"v":1165},{"s":"Dual KF","t":2.82,"v":1235},{"s":"Dual KF","t":3.02,"v":1375},{"s":"Dual KF","t":3.21,"v":1490},{"s":"Dual KF","t":3.4,"v":1660},{"s":"Dual KF","t":3.52,"v":1770},{"s":"Dual KF","t":3.64,"v":1655},{"s":"Dual KF","t":3.72,"v":1720},{"s":"Dual KF","t":3.87,"v":1375},{"s":"Dual KF","t":3.99,"v":1515},{"s":"Dual KF","t":4.18,"v":1445},{"s":"Dual KF","t":4.49,"v":1400},{"s":"Dual KF","t":4.72,"v":1445},{"s":"Dual KF","t":4.95,"v":1515},{"s":"Dual KF","t":5.26,"v":1545},{"s":"Dual KF","t":5.61,"v":1475},{"s":"Dual KF","t":5.68,"v":1560},{"s":"Dual KF","t":6.03,"v":1545},{"s":"Dual KF","t":7,"v":1530},{"s":"Dual KF","t":8,"v":1530},{"s":"Dual KF","t":9,"v":1530},{"s":"Dual KF","t":10,"v":1530}
              ]},
              "layer": [
                {
                  "mark": {"type": "line", "strokeWidth": 2.5, "clip": true},
                  "encoding": {
                    "x": {"field": "t", "type": "quantitative", "scale": {"domain": [0, 10], "nice": false, "zero": false},
                          "axis": {"values": [0, 2, 4, 6, 8, 10], "title": "Time [sec]", "grid": true, "labelExpr": "'' + datum.value"}},
                    "y": {"field": "v", "type": "quantitative", "scale": {"domain": [0, 8000], "nice": false},
                          "axis": {"values": [0, 2000, 4000, 6000, 8000], "title": "Cᵩ", "grid": true, "titleFont": "Liberation Serif", "titleFontStyle": "italic", "titleFontWeight": "normal", "titleFontSize": 21, "titlePadding": 8, "labelExpr": "'' + datum.value"}},
                    "color": {"field": "s", "type": "nominal",
                              "scale": {"domain": ["KFFP", "Dual KF"], "range": ["#0000ff", "#008000"]},
                              "legend": {"legendX": 386.5, "legendY": 8.3, "padding": 7.2, "symbolType": "M-4.5,0H4.5", "symbolSize": 100, "symbolOffset": 16.8, "labelOffset": 22, "rowPadding": 8.3}},
                    "strokeDash": {"field": "s", "type": "nominal",
                              "scale": {"domain": ["KFFP", "Dual KF"], "range": [[7, 3.5], [7, 3, 2, 3]]},
                              "legend": {"legendX": 386.5, "legendY": 8.3, "padding": 7.2, "symbolType": "M-4.5,0H4.5", "symbolSize": 100, "symbolOffset": 16.8, "labelOffset": 22, "rowPadding": 8.3}}
                  }
                },
                {
                  "mark": {"type": "point", "opacity": 0},
                  "encoding": {
                    "x": {"field": "t", "type": "quantitative", "axis": {"orient": "top", "values": [0, 2, 4, 6, 8, 10], "labels": false, "title": null, "grid": false}},
                    "y": {"field": "v", "type": "quantitative", "axis": {"orient": "right", "values": [0, 2000, 4000, 6000, 8000], "labels": false, "title": null, "grid": false}}
                  }
                },
                {
                  "mark": {"type": "text", "text": ".", "color": "white", "align": "left", "baseline": "top", "dx": -80, "fontSize": 8},
                  "encoding": {"x": {"datum": 0, "type": "quantitative", "axis": null}, "y": {"datum": 8000, "type": "quantitative", "axis": null}}
                }
              ],
              "resolve": {"axis": {"x": "independent", "y": "independent"}}
            }
          ]
        }
      ]
    }
  ]
}
